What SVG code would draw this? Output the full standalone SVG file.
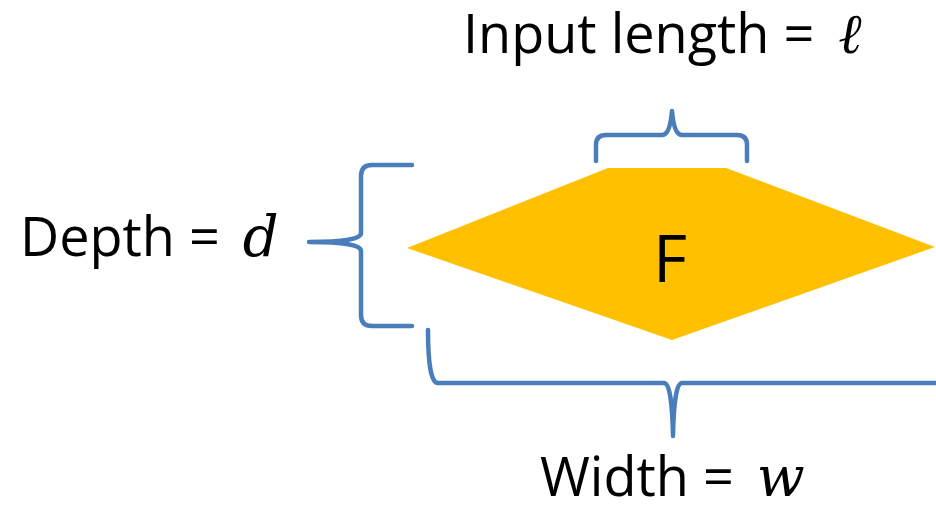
<svg xmlns="http://www.w3.org/2000/svg" width="936" height="510" viewBox="0 0 936 510">
<style>
.br{fill:none;stroke:#4a7ebb;stroke-width:4.5;stroke-linecap:round;stroke-linejoin:round}
.t{font-family:"Open Sans","Liberation Sans",sans-serif;font-size:54px;fill:#000}
.m{font-family:"DejaVu Serif","Liberation Serif",serif;font-style:italic;font-size:56px}
</style>
<g id="F">
<polygon points="407,248 608,168 726,168 935,247 672,340" fill="#ffc000"/>
<text class="t" x="670" y="282" text-anchor="middle" style="font-size:66px">F</text>
</g>
<g id="connectors">
<path class="br" d="M596,161 L596,145 Q596,135 606,135 L662,135 Q670,135 672,111 Q674,135 682,135 L737,135 Q747,135 747,145 L747,161"/>
<path class="br" d="M412,165 L372,165 Q361,165 361,176 L361,233 Q361,242 309,242 Q361,242 361,251 L361,315 Q361,326 372,326 L412,326"/>
<path class="br" d="M428,330 Q428,383 438,383 L664,383 Q672,383 673,436 Q674,383 682,383 L936,383"/>
</g>
<g id="labels">
<text class="t" x="463" y="53">Input length = <tspan class="m" dx="10">ℓ</tspan></text>
<text class="t" x="20" y="256">Depth = <tspan class="m" dx="9">d</tspan></text>
<text class="t" x="540" y="496">Width = <tspan class="m" dx="9">w</tspan></text>
</g>
</svg>
